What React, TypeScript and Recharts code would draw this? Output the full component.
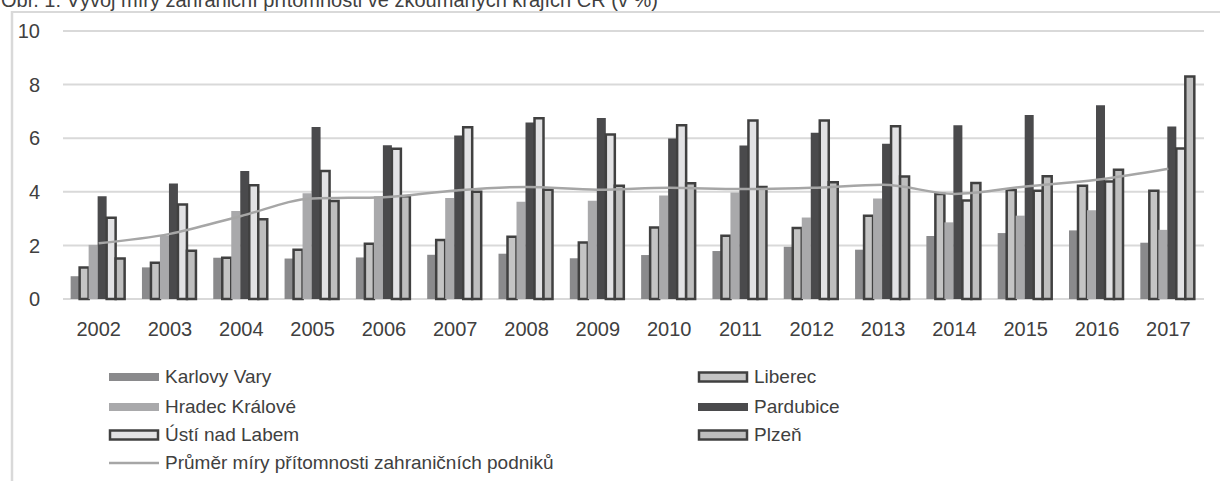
import { Bar, CartesianGrid, ComposedChart, Line, XAxis, YAxis } from 'recharts';

const years = ['2002', '2003', '2004', '2005', '2006', '2007', '2008', '2009', '2010', '2011', '2012', '2013', '2014', '2015', '2016', '2017'];
const karlovyVary = [0.85, 1.18, 1.54, 1.51, 1.55, 1.65, 1.69, 1.52, 1.64, 1.79, 1.95, 1.84, 2.35, 2.46, 2.56, 2.1];
const liberec = [1.18, 1.35, 1.54, 1.84, 2.06, 2.2, 2.32, 2.11, 2.67, 2.36, 2.65, 3.11, 3.92, 4.07, 4.23, 4.04];
const hradecKralove = [2.02, 2.37, 3.28, 3.95, 3.83, 3.77, 3.63, 3.67, 3.86, 3.97, 3.04, 3.75, 2.86, 3.11, 3.31, 2.58];
const pardubice = [3.83, 4.31, 4.78, 6.42, 5.74, 6.1, 6.59, 6.75, 5.99, 5.73, 6.2, 5.79, 6.48, 6.87, 7.23, 6.44];
const ustiNadLabem = [3.03, 3.53, 4.24, 4.78, 5.61, 6.41, 6.74, 6.14, 6.48, 6.66, 6.66, 6.45, 3.68, 4.04, 4.38, 5.62];
const plzen = [1.51, 1.8, 2.98, 3.66, 3.83, 4.0, 4.08, 4.23, 4.32, 4.18, 4.36, 4.57, 4.33, 4.58, 4.82, 8.3];
const prumer = [2.08, 2.43, 3.1, 3.75, 3.8, 4.05, 4.18, 4.08, 4.15, 4.1, 4.15, 4.26, 3.92, 4.2, 4.45, 4.86];
const yTicks = [0, 2, 4, 6, 8, 10];

const FONT = '"Liberation Sans", Arial, sans-serif';
const TEXT = '#404040';
const EDGE = '#404040';

const data = years.map((year, i) => ({
  year,
  kv: karlovyVary[i],
  lib: liberec[i],
  hk: hradecKralove[i],
  pard: pardubice[i],
  usti: ustiNadLabem[i],
  plzen: plzen[i],
  avg: prumer[i],
}));

const legendItems = [
  { name: 'Karlovy Vary', kind: 'rect', fill: '#8a8a8c', x: 108, y: 377 },
  { name: 'Liberec', kind: 'box', fill: '#c4c4c4', x: 697, y: 377 },
  { name: 'Hradec Králové', kind: 'rect', fill: '#a9a9ab', x: 108, y: 407 },
  { name: 'Pardubice', kind: 'rect', fill: '#4a4a4c', x: 697, y: 407 },
  { name: 'Ústí nad Labem', kind: 'box', fill: '#e2e2e4', x: 108, y: 435 },
  { name: 'Plzeň', kind: 'box', fill: '#bebebe', x: 697, y: 435 },
  { name: 'Průměr míry přítomnosti zahraničních podniků', kind: 'line', fill: '#a6a6a6', x: 108, y: 463 },
];

const LegendIcon = ({ kind, fill }: { kind: string; fill: string }) => (
  <svg width={52} height={14} style={{ display: 'block' }}>
    {kind === 'rect' && <rect x={1} y={3} width={50} height={8} fill={fill} />}
    {kind === 'box' && <rect x={2} y={2.5} width={48} height={9} fill={fill} stroke={EDGE} strokeWidth={2.5} />}
    {kind === 'line' && <line x1={1} x2={51} y1={7} y2={7} stroke={fill} strokeWidth={2.5} />}
  </svg>
);

const App = () => (
  <div
    style={{
      position: 'absolute',
      left: 0,
      top: 0,
      width: 1220,
      height: 481,
      overflow: 'hidden',
      background: '#fff',
      fontFamily: FONT,
    }}
  >
    <svg width={1220} height={481} style={{ position: 'absolute', left: 0, top: 0 }}>
      <text x={1} y={7} fontSize={20} fill={TEXT} fontFamily={FONT}>
        Obr. 1: Vývoj míry zahraniční přítomnosti ve zkoumaných krajích ČR (v %)
      </text>
      <line x1={11} x2={1220} y1={12} y2={12} stroke="#d9d9d9" strokeWidth={2} />
      <line x1={12} x2={12} y1={11} y2={481} stroke="#d9d9d9" strokeWidth={2.5} />
    </svg>

    <div style={{ position: 'absolute', left: 0, top: 0 }}>
      <ComposedChart
        width={1220}
        height={340}
        data={data}
        margin={{ top: 31, right: 16, bottom: 0, left: 0 }}
        barCategoryGap="10.7%"
        barGap={0}
      >
        <CartesianGrid vertical={false} stroke="#d9d9d9" strokeWidth={2} />
        <XAxis
          dataKey="year"
          height={41}
          axisLine={false}
          tickLine={false}
          tickSize={0}
          tickMargin={23}
          tick={{ fontSize: 20, fill: TEXT, fontFamily: FONT }}
          interval={0}
        />
        <YAxis
          width={63}
          domain={[0, 10]}
          ticks={yTicks}
          axisLine={false}
          tickLine={false}
          tickSize={0}
          tickMargin={23}
          tick={{ fontSize: 20, fill: TEXT, fontFamily: FONT }}
        />
        <Bar dataKey="kv" name="Karlovy Vary" fill="#8a8a8c" isAnimationActive={false} />
        <Bar dataKey="lib" name="Liberec" fill="#c4c4c4" stroke={EDGE} strokeWidth={2.5} isAnimationActive={false} />
        <Bar dataKey="hk" name="Hradec Králové" fill="#a9a9ab" isAnimationActive={false} />
        <Bar dataKey="pard" name="Pardubice" fill="#4a4a4c" isAnimationActive={false} />
        <Bar dataKey="usti" name="Ústí nad Labem" fill="#e2e2e4" stroke={EDGE} strokeWidth={2.5} isAnimationActive={false} />
        <Bar dataKey="plzen" name="Plzeň" fill="#bebebe" stroke={EDGE} strokeWidth={2.5} isAnimationActive={false} />
        <Line
          dataKey="avg"
          name="Průměr míry přítomnosti zahraničních podniků"
          type="monotone"
          stroke="#a6a6a6"
          strokeWidth={2.5}
          dot={false}
          activeDot={false}
          isAnimationActive={false}
        />
      </ComposedChart>
    </div>

    {legendItems.map((item) => (
      <div
        key={item.name}
        style={{
          position: 'absolute',
          left: item.x,
          top: item.y - 11,
          height: 22,
          display: 'flex',
          alignItems: 'center',
          gap: 5,
          fontSize: 19,
          color: TEXT,
          whiteSpace: 'nowrap',
        }}
      >
        <LegendIcon kind={item.kind} fill={item.fill} />
        <span>{item.name}</span>
      </div>
    ))}
  </div>
);

export default App;
